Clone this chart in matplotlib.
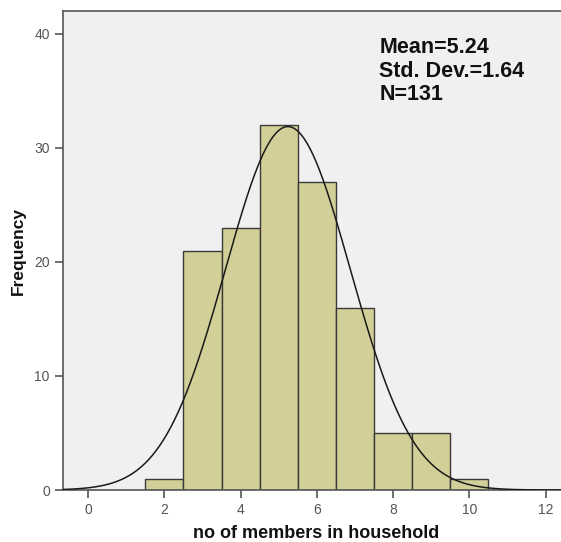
import numpy as np
import matplotlib
matplotlib.use("Agg")
from matplotlib import pyplot as plt

# histogram data (bin centres and counts)
members = [2, 3, 4, 5, 6, 7, 8, 9, 10]
counts = [1, 21, 23, 32, 27, 16, 5, 5, 1]
meanVal = 5.24
stdVal = 1.64
nVal = 131
binWidth = 1.0

plt.rcParams['font.family'] = ['Liberation Sans', 'DejaVu Sans']

fig = plt.figure(figsize=(5.61, 5.42), dpi=100)
ax = fig.add_axes([0.1123, 0.0959, 0.905, 0.8838])
ax.set_facecolor('#f0f0f0')

ax.bar(members, counts, width=binWidth, color='#d3cf98', edgecolor='#3a3a3a', linewidth=1.0, zorder=2)

# fitted normal curve
xs = np.linspace(-0.66, 12.5, 400)
ys = nVal * binWidth / (stdVal * np.sqrt(2 * np.pi)) * np.exp(-0.5 * ((xs - meanVal) / stdVal) ** 2)
ax.plot(xs, ys, color='#1a1a1a', linewidth=1.1, zorder=3)

ax.set_xlim(-0.66, 12.66)
ax.set_ylim(0, 42)
ax.set_xticks([0, 2, 4, 6, 8, 10, 12])
ax.set_yticks([0, 10, 20, 30, 40])

for side in ['left', 'bottom', 'top', 'right']:
	ax.spines[side].set_color('#555555')
	ax.spines[side].set_linewidth(1.2)
ax.tick_params(direction='out', length=6, width=1.2, color='#555555', labelcolor='#555555', labelsize=10)

ax.set_xlabel('no of members in household', fontsize=13, fontweight='bold', color='#111111')
ax.set_ylabel('Frequency', fontsize=12.5, fontweight='bold', color='#111111')
ax.xaxis.set_label_coords(0.498, -0.0898)
ax.xaxis.label.set_va('center')
ax.yaxis.set_label_coords(-0.0886, 0.5)
ax.yaxis.label.set_va('center')

ax.text(0.623, 0.946, 'Mean=%.2f\nStd. Dev.=%.2f\nN=%d' % (meanVal, stdVal, nVal), transform=ax.transAxes,
		va='top', ha='left', fontsize=15.5, fontweight='bold', color='#111111', linespacing=1.17)

fig.savefig('out.png', dpi=100, facecolor='white')
